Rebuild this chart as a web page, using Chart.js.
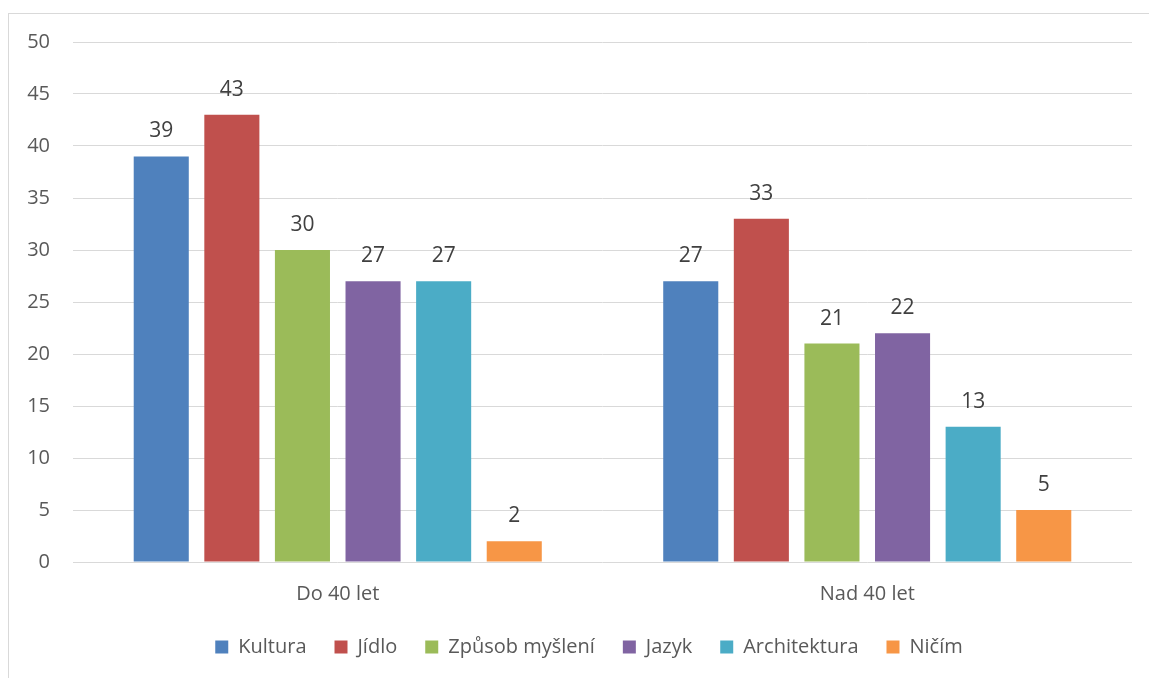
<!DOCTYPE html>
<html><head><meta charset="utf-8">
<script src="https://cdn.jsdelivr.net/npm/chart.js@4/dist/chart.umd.min.js"></script>
<style>
html,body{margin:0;padding:0;background:#fff;overflow:hidden;}
#wrap{position:absolute;left:0;top:0;width:1149px;height:678px;}
#frame{position:absolute;left:8px;top:13px;width:1200px;height:700px;border-left:1px solid #d9d9d9;border-top:1px solid #d9d9d9;}
canvas{position:absolute;left:0;top:0;}
</style></head><body>
<div id="wrap"><div id="frame"></div><canvas id="c" width="1149" height="678"></canvas></div>
<script>
const categories = ["Do 40 let", "Nad 40 let"];
const seriesNames = ["Kultura", "Jídlo", "Způsob myšlení", "Jazyk", "Architektura", "Ničím"];
const kultura = [39, 27];
const jidlo = [43, 33];
const zpusob = [30, 21];
const jazyk = [27, 22];
const architektura = [27, 13];
const nicim = [2, 5];
const yTicks = [0, 5, 10, 15, 20, 25, 30, 35, 40, 45, 50];
const colors = ["#4f81bd", "#c0504d", "#9bbb59", "#8064a2", "#4bacc6", "#f79646"];
const allValues = [kultura, jidlo, zpusob, jazyk, architektura, nicim];

const FONT = "'Open Sans', sans-serif";
const TEXT = "#595959";

const labelPlugin = {
  id: 'vals',
  afterLayout(chart) {
    if (chart.legend) chart.legend.left += 46;
  },
  afterDatasetsDraw(chart) {
    const ctx = chart.ctx;
    ctx.save();
    ctx.font = "21px " + FONT;
    ctx.fillStyle = "#404040";
    ctx.textAlign = "center";
    ctx.textBaseline = "alphabetic";
    chart.data.datasets.forEach((ds, i) => {
      chart.getDatasetMeta(i).data.forEach((bar, j) => {
        ctx.fillText(String(ds.data[j]), bar.x, bar.y - 19);
      });
    });
    ctx.restore();
  }
};

new Chart(document.getElementById('c'), {
  type: 'bar',
  data: {
    labels: categories,
    datasets: seriesNames.map((n, i) => ({
      label: n,
      data: allValues[i],
      backgroundColor: colors[i],
      borderWidth: 0,
      categoryPercentage: 0.8,
      barPercentage: 0.78
    }))
  },
  options: {
    responsive: false,
    animation: false,
    layout: { padding: { top: 42, right: 17, left: 0, bottom: 11 } },
    plugins: {
      legend: {
        position: 'bottom',
        labels: {
          boxWidth: 13, boxHeight: 13, padding: 28,
          color: TEXT, font: { family: FONT, size: 20 }
        }
      },
      tooltip: { enabled: false }
    },
    scales: {
      x: {
        afterFit(s) { s.height -= 9; },
        grid: { display: false },
        border: { display: false },
        ticks: { color: TEXT, font: { family: FONT, size: 20 }, padding: 12 }
      },
      y: {
        min: 0, max: 50,
        afterFit(s) { s.width = 73; },
        afterBuildTicks(s) { s.ticks = yTicks.map(v => ({ value: v })); },
        grid: { color: "#d9d9d9", lineWidth: 1, drawTicks: false },
        border: { display: false },
        ticks: { color: TEXT, font: { family: FONT, size: 20 }, padding: 23 }
      }
    }
  },
  plugins: [labelPlugin]
});
</script>
</body></html>
